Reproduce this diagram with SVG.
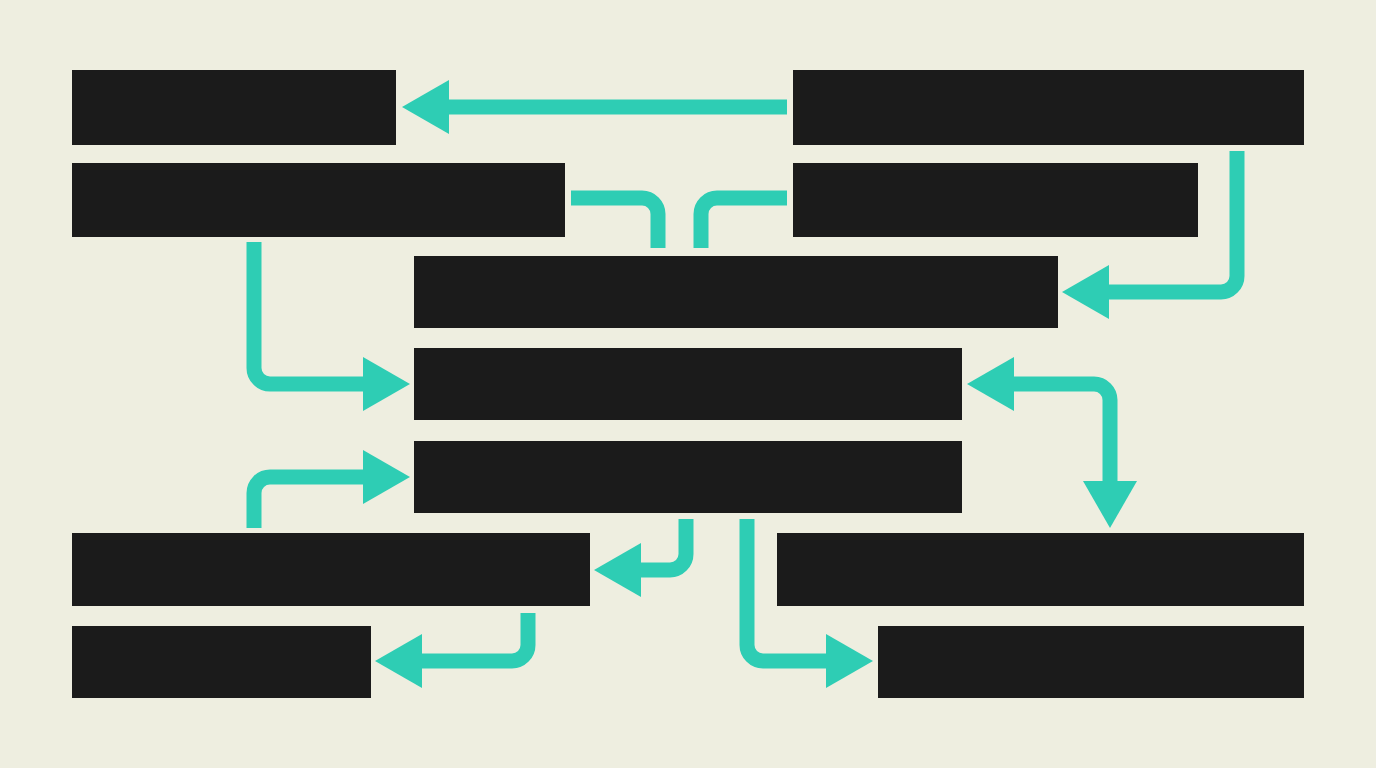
<svg xmlns="http://www.w3.org/2000/svg" width="1376" height="768" viewBox="0 0 1376 768">
  <style>
    .box { fill: #1b1b1b; }
    .conn { fill: none; stroke: #2ecdb4; stroke-width: 15; stroke-linecap: butt; }
  </style>
  <defs>
    <marker id="ah" markerUnits="userSpaceOnUse" markerWidth="48" markerHeight="54" viewBox="0 0 48 54" refX="2" refY="27" orient="auto-start-reverse">
      <path d="M0,0 L47,27 L0,54 Z" fill="#2ecdb4"/>
    </marker>
  </defs>
  <rect x="0" y="0" width="1376" height="768" fill="#eeeee0"/>

  <g id="n1"><rect class="box" x="72" y="70" width="324" height="75"/></g>
  <g id="n2"><rect class="box" x="793" y="70" width="511" height="75"/></g>
  <g id="n3"><rect class="box" x="72" y="163" width="493" height="74"/></g>
  <g id="n4"><rect class="box" x="793" y="163" width="405" height="74"/></g>
  <g id="n5"><rect class="box" x="414" y="256" width="644" height="72"/></g>
  <g id="n6"><rect class="box" x="414" y="348" width="548" height="72"/></g>
  <g id="n7"><rect class="box" x="414" y="441" width="548" height="72"/></g>
  <g id="n8"><rect class="box" x="72" y="533" width="518" height="73"/></g>
  <g id="n9"><rect class="box" x="777" y="533" width="527" height="73"/></g>
  <g id="n10"><rect class="box" x="72" y="626" width="299" height="72"/></g>
  <g id="n11"><rect class="box" x="878" y="626" width="426" height="72"/></g>

  <g id="connectors">
    <path class="conn" d="M787,107 H447" marker-end="url(#ah)"/>
    <path class="conn" d="M571,198 H642 a16,16 0 0 1 16,16 V248"/>
    <path class="conn" d="M787,198 H717 a16,16 0 0 0 -16,16 V248"/>
    <path class="conn" d="M1237,151 V276 a16,16 0 0 1 -16,16 H1107" marker-end="url(#ah)"/>
    <path class="conn" d="M254,242 V368 a16,16 0 0 0 16,16 H365" marker-end="url(#ah)"/>
    <path class="conn" d="M254,528 V493 a16,16 0 0 1 16,-16 H365" marker-end="url(#ah)"/>
    <path class="conn" d="M686,519 V554 a16,16 0 0 1 -16,16 H639" marker-end="url(#ah)"/>
    <path class="conn" d="M747,519 V645 a16,16 0 0 0 16,16 H828" marker-end="url(#ah)"/>
    <path class="conn" d="M1012,384 H1094 a16,16 0 0 1 16,16 V483" marker-start="url(#ah)" marker-end="url(#ah)"/>
    <path class="conn" d="M528,613 V645 a16,16 0 0 1 -16,16 H420" marker-end="url(#ah)"/>
  </g>
</svg>
